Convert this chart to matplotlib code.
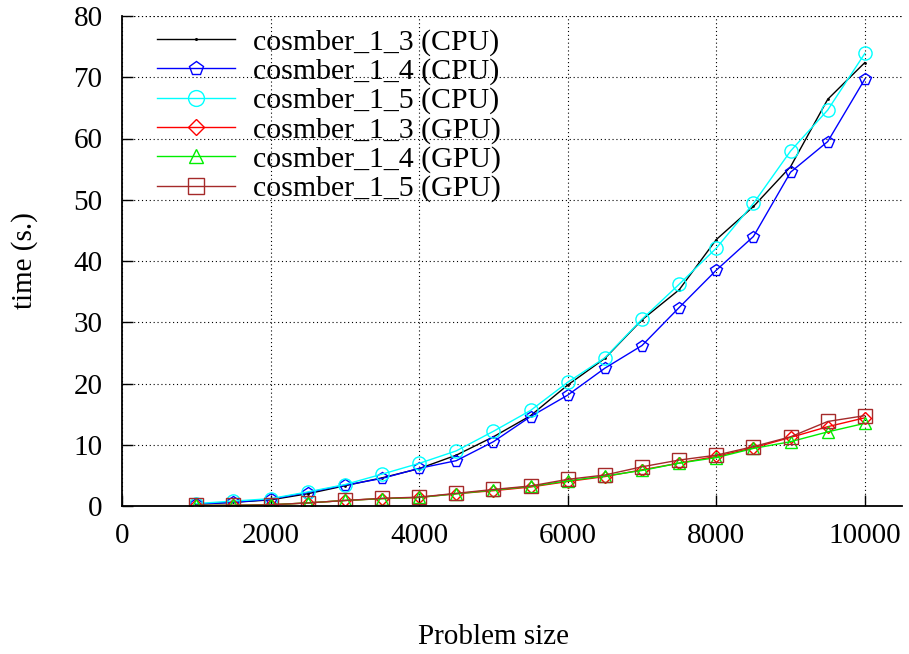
import matplotlib
matplotlib.use("Agg")
import matplotlib.pyplot as plt

sizes = [1000, 1500, 2000, 2500, 3000, 3500, 4000, 4500, 5000, 5500,
         6000, 6500, 7000, 7500, 8000, 8500, 9000, 9500, 10000]

cpu_1_3 = [0.3, 0.6, 1.0, 2.0, 3.3, 4.6, 6.1, 8.3, 11.3, 14.75,
           19.75, 24.1, 30.4, 35.3, 43.5, 48.9, 55.4, 66.4, 72.4]
cpu_1_4 = [0.3, 0.6, 1.1, 2.2, 3.4, 4.5, 6.15, 7.4, 10.5, 14.6,
           18.1, 22.5, 26.2, 32.4, 38.5, 44.0, 54.5, 59.5, 69.7]
cpu_1_5 = [0.4, 0.8, 1.2, 2.3, 3.5, 5.2, 6.96, 9.0, 12.2, 15.6,
           20.2, 24.2, 30.5, 36.2, 42.1, 49.4, 57.96, 64.65, 73.9]
gpu_1_3 = [0.1, 0.1, 0.2, 0.5, 0.9, 1.2, 1.4, 2.0, 2.5, 3.1,
           4.0, 4.8, 5.9, 7.0, 8.1, 9.5, 11.2, 12.95, 14.4]
gpu_1_4 = [0.1, 0.1, 0.2, 0.5, 0.9, 1.2, 1.4, 2.0, 2.6, 3.2,
           4.1, 4.9, 5.8, 7.0, 7.9, 9.4, 10.5, 12.1, 13.5]
gpu_1_5 = [0.1, 0.1, 0.2, 0.5, 0.9, 1.25, 1.45, 2.07, 2.7, 3.27,
           4.35, 5.06, 6.4, 7.5, 8.3, 9.7, 11.3, 13.8, 14.75]

labels = ["cosmber_1_3 (CPU)", "cosmber_1_4 (CPU)", "cosmber_1_5 (CPU)",
          "cosmber_1_3 (GPU)", "cosmber_1_4 (GPU)", "cosmber_1_5 (GPU)"]
xticks = [0, 2000, 4000, 6000, 8000, 10000]
yticks = [0, 10, 20, 30, 40, 50, 60, 70, 80]

plt.rcParams['font.family'] = ['Liberation Serif', 'DejaVu Serif']

fig = plt.figure(figsize=(9.09, 6.54), dpi=100)
ax = fig.add_axes([122/909, 1-506/654, (902-122)/909, (506-16)/654])

styles = [
    (cpu_1_3, 'black', '.', 2),
    (cpu_1_4, 'blue', 'p', 8.5),
    (cpu_1_5, 'cyan', 'o', 9.5),
    (gpu_1_3, 'red', 'D', 6.5),
    (gpu_1_4, '#00ee00', '^', 8.5),
    (gpu_1_5, '#a52a2a', 's', 9.5),
]
for (vals, col, mk, ms), lab in zip(styles, labels):
    ax.plot(sizes, vals, color=col, lw=1.0, marker=mk, ms=ms,
            mfc='none', mec=col, mew=1.0, label=lab)

ax.set_xlim(0, 10500)
ax.set_ylim(0, 80)
ax.set_xticks(xticks)
ax.set_yticks(yticks)
ax.tick_params(direction='in', length=8, width=1, labelsize=21)
ax.tick_params(axis='x', pad=12)
ax.tick_params(axis='y', pad=14)
ax.grid(True, color='black', linestyle=(0, (1, 2.5)), linewidth=0.8)
ax.axhline(80, color='black', linestyle=(0, (1, 2.5)), linewidth=0.8)
for s in ['top', 'right']:
    ax.spines[s].set_visible(False)
for s in ['left', 'bottom']:
    ax.spines[s].set_linewidth(1.3)

fig.text(25/909, 1-261/654, "time (s.)", rotation=90, ha='center', va='center', fontsize=21)
fig.text(494/909, 1-637/654, "Problem size", ha='center', va='center', fontsize=21)

leg = ax.legend(loc='upper left', bbox_to_anchor=(25/780, 1 - 2/490), frameon=False,
                fontsize=21.5, handlelength=2.6, handletextpad=0.6,
                labelspacing=0.07, borderaxespad=0.0, borderpad=0.35,
                markerscale=1.2)

fig.savefig("out.png", dpi=100)
